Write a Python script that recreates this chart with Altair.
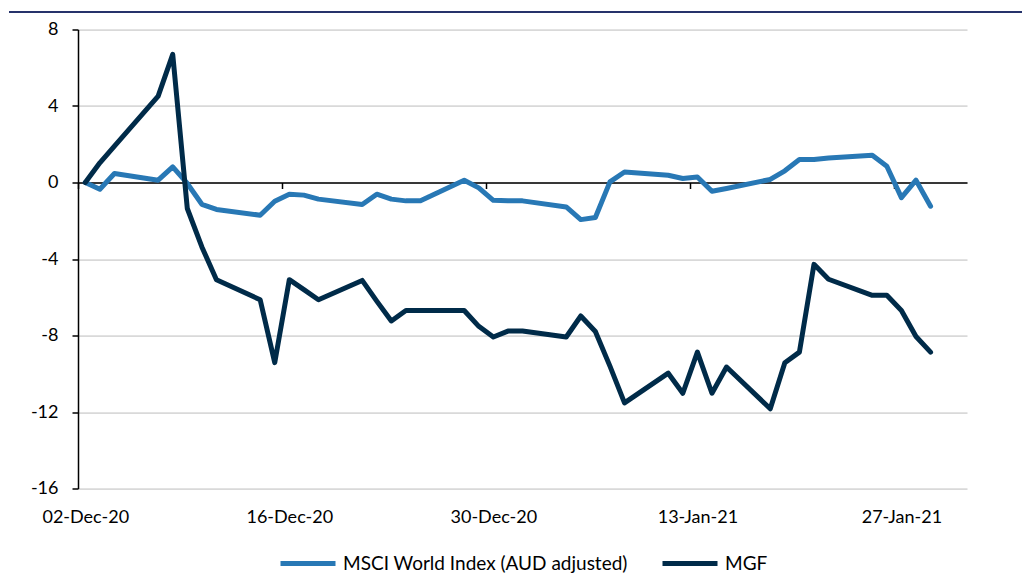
import altair as alt
import pandas as pd

# ---------------- data ----------------
dates = [
    "2020-12-02", "2020-12-03", "2020-12-04",
    "2020-12-07", "2020-12-08", "2020-12-09", "2020-12-10", "2020-12-11",
    "2020-12-14", "2020-12-15", "2020-12-16", "2020-12-17", "2020-12-18",
    "2020-12-21", "2020-12-22", "2020-12-23", "2020-12-24", "2020-12-25",
    "2020-12-28", "2020-12-29", "2020-12-30", "2020-12-31", "2021-01-01",
    "2021-01-04", "2021-01-05", "2021-01-06", "2021-01-07", "2021-01-08",
    "2021-01-11", "2021-01-12", "2021-01-13", "2021-01-14", "2021-01-15",
    "2021-01-18", "2021-01-19", "2021-01-20", "2021-01-21", "2021-01-22",
    "2021-01-25", "2021-01-26", "2021-01-27", "2021-01-28", "2021-01-29",
]
msci = [
    0.00, -0.35, 0.47,
    0.12, 0.82, -0.05, -1.14, -1.41,
    -1.71, -0.98, -0.61, -0.66, -0.87,
    -1.15, -0.61, -0.87, -0.96, -0.96,
    0.12, -0.28, -0.93, -0.96, -0.96,
    -1.28, -1.94, -1.83, 0.03, 0.55,
    0.38, 0.21, 0.29, -0.46, -0.31,
    0.16, 0.61, 1.20, 1.20, 1.28,
    1.43, 0.85, -0.79, 0.12, -1.24,
]
mgf = [
    0.00, 1.03, 1.90,
    4.52, 6.70, -1.36, -3.37, -5.08,
    -6.13, -9.42, -5.08, -5.60, -6.13,
    -5.12, -6.20, -7.24, -6.69, -6.69,
    -6.69, -7.52, -8.08, -7.77, -7.77,
    -8.08, -6.98, -7.79, -9.60, -11.52,
    -9.97, -11.02, -8.87, -11.02, -9.65,
    -11.83, -9.42, -8.87, -4.28, -5.06,
    -5.90, -5.90, -6.69, -8.05, -8.87,
]
series_names = ["MSCI World Index (AUD adjusted)", "MGF"]
series_colors = ["#2878B5", "#002B49"]
y_ticks = [-16, -12, -8, -4, 0, 4, 8]
x_ticks = ["2020-12-02", "2020-12-16", "2020-12-30", "2021-01-13", "2021-01-27"]
x_domain = [("2020-12-01", 12), ("2021-01-31", 12)]

n = len(dates)
df = pd.DataFrame({
    "date": dates * 2,
    "value": msci + mgf,
    "series": [series_names[0]] * n + [series_names[1]] * n,
})


def dt(s, hours=0):
    y, m, d = (int(p) for p in s.split("-"))
    return alt.DateTime(year=y, month=m, date=d, hours=hours, utc=True)


# ---------------- layout ----------------
W, H = 889, 459
PAD_L, PAD_T = 78, 29.5
PAD_R, PAD_B = 1022 - PAD_L - W, 573 - PAD_T - H
day_px = W / 61.0
zero_from_bottom = H * 16 / 24.0
FONT = "Lato"

x_enc = alt.X(
    "date:T",
    scale=alt.Scale(type="utc", domain=[dt(s, h) for s, h in x_domain]),
    axis=alt.Axis(
        values=[dt(s) for s in x_ticks],
        format="%d-%b-%y",
        offset=-zero_from_bottom,
        tickSize=6,
        tickOffset=-day_px / 2,
        labelOffset=day_px / 2,
        labelPadding=320,
        domainColor="#000000",
        domainWidth=1.5,
        tickColor="#000000",
        tickWidth=1.5,
        grid=False,
        labelFont=FONT,
        labelFontSize=18,
        labelColor="#000000",
        labelFlush=False,
        labelOverlap=False,
        title=None,
    ),
)
y_enc = alt.Y(
    "value:Q",
    scale=alt.Scale(domain=[-16, 8], nice=False, zero=False),
    axis=alt.Axis(
        values=y_ticks,
        labelExpr="'' + datum.value",
        tickSize=6,
        labelPadding=14,
        domainColor="#000000",
        domainWidth=1.5,
        tickColor="#000000",
        tickWidth=1.5,
        grid=True,
        gridColor="#D9D9D9",
        gridWidth=1.75,
        labelFont=FONT,
        labelFontSize=18,
        labelColor="#000000",
        title=None,
    ),
)
color_enc = alt.Color(
    "series:N",
    scale=alt.Scale(domain=series_names, range=series_colors),
    legend=alt.Legend(
        orient="none",
        legendX=200,
        legendY=504,
        direction="horizontal",
        symbolType="stroke",
        symbolSize=3025,
        symbolStrokeWidth=5,
        labelFont=FONT,
        labelFontSize=19,
        labelColor="#000000",
        labelOffset=5,
        labelLimit=500,
        columnPadding=24,
        padding=0,
        title=None,
    ),
)

base = alt.Chart(df)
line_style = dict(strokeWidth=5, strokeCap="round", strokeJoin="round")

msci_line = base.transform_filter(
    alt.datum.series == series_names[0]
).mark_line(**line_style).encode(x=x_enc, y=y_enc, color=color_enc)

mgf_line = base.transform_filter(
    alt.datum.series == series_names[1]
).mark_line(**line_style).encode(x=x_enc, y=y_enc, color=color_enc)

top_rule = alt.Chart(pd.DataFrame({"k": [0]})).mark_rule(
    color="#26336B", strokeWidth=2
).encode(
    x=alt.value(9 - PAD_L),
    x2=alt.value(1022 - PAD_L),
    y=alt.value(12 - PAD_T),
)

chart = alt.layer(top_rule, msci_line, mgf_line).properties(
    width=W,
    height=H,
    padding={"left": PAD_L, "top": PAD_T, "right": PAD_R, "bottom": PAD_B},
    autosize=alt.AutoSizeParams(type="none"),
    background="#FFFFFF",
).configure_view(strokeWidth=0)

chart.save("out.html", embed_options={"renderer": "svg", "actions": False})
